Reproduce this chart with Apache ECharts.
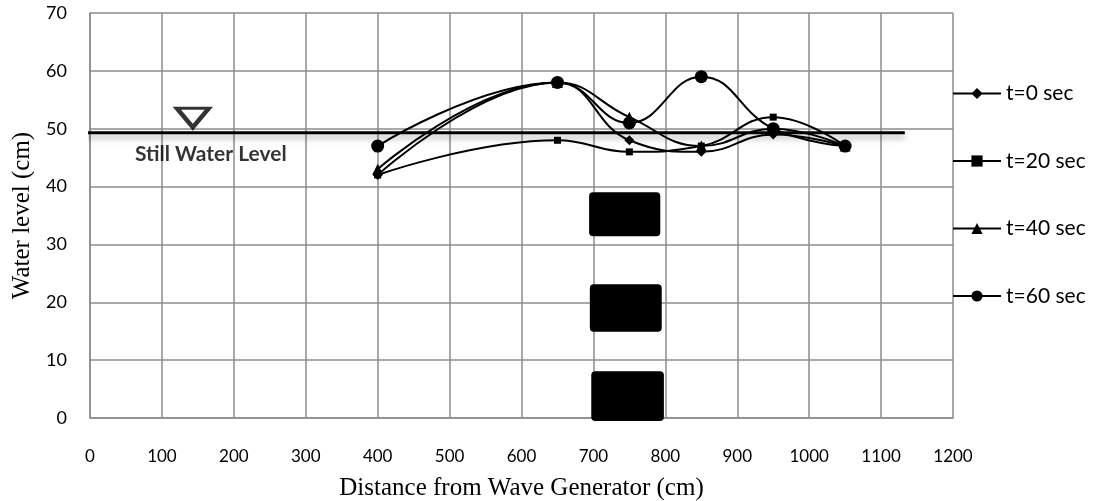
<!DOCTYPE html>
<html>
<head>
<meta charset="utf-8">
<script src="https://cdn.jsdelivr.net/npm/echarts@6/dist/echarts.min.js"></script>
<style>html,body{margin:0;padding:0;background:#fff}#c{width:1096px;height:501px}</style>
</head>
<body>
<div id="c"></div>
<script>
// ---- data ----
var distances = [400, 650, 750, 850, 950, 1050];
var seriesNames = ['t=0 sec', 't=20 sec', 't=40 sec', 't=60 sec'];
var t0  = [42, 58, 48, 46, 49, 47];
var t20 = [42, 48, 46, 47, 52, 47];
var t40 = [43, 58, 52, 47, 50, 47];
var t60 = [47, 58, 51, 59, 50, 47];
var xTicks = [0, 1200, 100];   // min, max, interval
var yTicks = [0, 70, 10];
// still water level line: [xStart, xEnd, level]
var stillWater = [-12, 1133, 49.3];
var swlMarker = [143, 51.9];
var swlLabelPos = [168, 45.6];
var swlLabel = 'Still Water Level';
// obstacle blocks: [x0, x1, y0, y1]
var blocks = [
  [694, 793, 31.4, 39.0],
  [695, 795, 14.9, 23.1],
  [697, 798, -0.5, 8.1]
];
var xTitle = 'Distance from Wave Generator (cm)';
var yTitle = 'Water level (cm)';

function pairs(vals){ return distances.map(function(d,i){ return [d, vals[i]]; }); }

var symbols = ['diamond', 'rect', 'triangle', 'circle'];
var symSizes = [10, 7, 11, 13];
var allVals = [t0, t20, t40, t60];

var lineSeries = seriesNames.map(function(n, i){
  return {
    name: n, type: 'line', data: pairs(allVals[i]), smooth: 0.45,
    symbol: symbols[i], symbolSize: symSizes[i],
    itemStyle: {color: '#000'},
    lineStyle: {color: '#000', width: 2},
    z: 5
  };
});

var chart = echarts.init(document.getElementById('c'));
var labelFont = 'Lato, "Open Sans", sans-serif';
chart.setOption({
  animation: false,
  backgroundColor: '#fff',
  grid: {left: 90, right: 143, top: 13, bottom: 83, containLabel: false, outerBoundsMode: 'none'},
  legend: {
    orient: 'vertical', left: 947, top: 78,
    itemWidth: 48, itemHeight: 14, itemGap: 46.5,
    data: seriesNames,
    textStyle: {fontFamily: labelFont, fontSize: 21, color: '#000'}
  },
  xAxis: {
    type: 'value', min: xTicks[0], max: xTicks[1], interval: xTicks[2],
    axisLine: {show: true, lineStyle: {color: '#8c8c8c', width: 1.5}},
    axisTick: {show: false},
    splitLine: {show: true, lineStyle: {color: '#8c8c8c', width: 1.5}},
    axisLabel: {margin: 30, fontFamily: labelFont, fontSize: 17, color: '#000',
                formatter: function(v){ return String(v); }},
    name: xTitle, nameLocation: 'middle', nameGap: 58,
    nameTextStyle: {fontFamily: '"Liberation Serif", serif', fontSize: 25, color: '#000'}
  },
  yAxis: {
    type: 'value', min: yTicks[0], max: yTicks[1], interval: yTicks[2],
    axisLine: {show: true, lineStyle: {color: '#8c8c8c', width: 1.5}},
    axisTick: {show: false},
    splitLine: {show: true, lineStyle: {color: '#8c8c8c', width: 1.5}},
    axisLabel: {margin: 23, fontFamily: labelFont, fontSize: 18, color: '#000'},
    name: yTitle, nameLocation: 'middle', nameGap: 54,
    nameTextStyle: {fontFamily: '"Liberation Serif", serif', fontSize: 25, color: '#000'}
  },
  series: [
    {
      type: 'custom', name: 'blocks', data: blocks, z: 3, silent: true,
      renderItem: function(params, api){
        var p0 = api.coord([api.value(0), api.value(3)]);
        var p1 = api.coord([api.value(1), api.value(2)]);
        return {type: 'rect', shape: {x: p0[0], y: p0[1], width: p1[0]-p0[0], height: p1[1]-p0[1], r: 4},
                style: {fill: '#000'}};
      },
      encode: {x: [0, 1], y: [2, 3]}
    },
    {
      type: 'line', name: 'swl', data: [[stillWater[0], stillWater[2]], [stillWater[1], stillWater[2]]],
      symbol: 'none', clip: false, silent: true, z: 4,
      lineStyle: {color: '#000', width: 3, shadowColor: 'rgba(0,0,0,0.35)', shadowBlur: 6, shadowOffsetY: 4}
    },
    {
      type: 'scatter', name: 'swlMarker', data: [swlMarker], symbol: 'triangle', symbolRotate: 180,
      symbolSize: [32, 19], silent: true, z: 4,
      itemStyle: {color: '#fff', borderColor: '#000', borderWidth: 4}
    },
    {
      type: 'scatter', name: 'swlLabel', data: [swlLabelPos], symbolSize: 1, silent: true,
      itemStyle: {color: 'rgba(0,0,0,0)'},
      label: {show: true, position: 'inside', formatter: swlLabel, fontFamily: labelFont,
              fontWeight: 'bold', fontSize: 21, color: '#000'}
    }
  ].concat(lineSeries)
});
</script>
</body>
</html>
